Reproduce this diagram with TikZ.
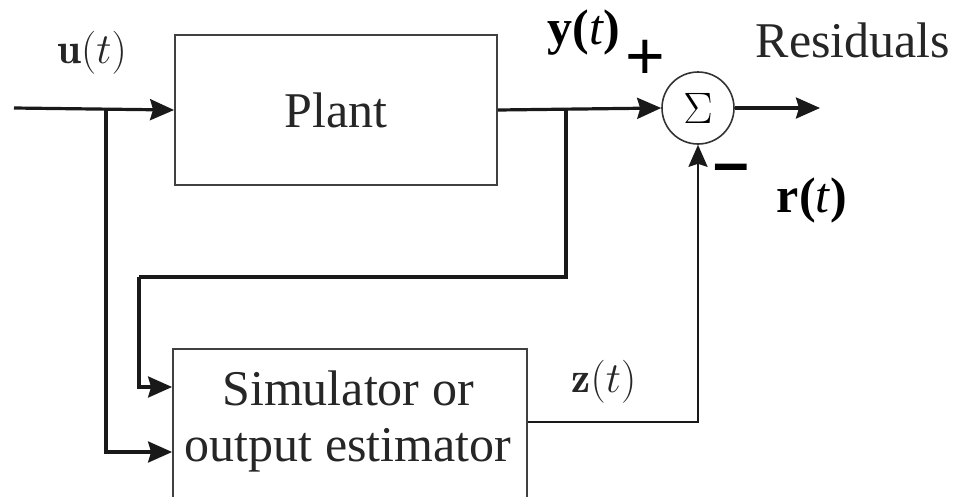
\RequirePackage{fix-cm}
\documentclass[tikz,border=0pt]{standalone}
\usepackage{fontspec}
\newfontfamily\tnr{Liberation Serif}
\newfontfamily\sansb{Liberation Sans}
\usetikzlibrary{arrows.meta}
\begin{document}
\begin{tikzpicture}[x=1pt,y=-1pt,
  wire/.style={line width=3.2pt,draw=black!90},
  arr/.style={wire,-{Stealth[length=24pt,width=21pt,inset=3pt]}},
  thinarr/.style={line width=2.4pt,draw=black!90,-{Stealth[length=22pt,width=19pt,inset=3pt]}},
  blockbox/.style={draw=black!75,line width=1.8pt,rectangle,inner sep=0pt},
  bigtext/.style={font=\tnr\fontsize{50}{56}\selectfont,text=black!85},
  mathlbl/.style={font=\fontsize{43}{48}\selectfont,inner sep=0pt,text=black!85},
  boldlbl/.style={font=\tnr\bfseries\fontsize{50}{56}\selectfont,inner sep=0pt}]
\useasboundingbox (0,0) rectangle (959,496);

\node[blockbox,bigtext,minimum width=322pt,minimum height=150pt] (plant) at (336,110) {Plant};
\node[blockbox,minimum width=354pt,minimum height=151pt] (sim) at (350,424.5) {};
\node[bigtext,align=center,inner sep=0pt] (simtxt) at (348,421) {Simulator or\\output estimator};
\node[draw=black!80,line width=1.6pt,circle,minimum size=72pt,inner sep=0pt,font=\fontsize{44}{48}\selectfont] (sum) at (698,108) {$\Sigma$};

\coordinate (in) at (14,108);
\coordinate (b1) at (106,108);
\coordinate (fb) at (566,108);
\coordinate (fb2) at (566,277);
\coordinate (fb3) at (139,277);
\coordinate (out) at (820,108);

\draw[arr] (in) -- (plant.west);
\draw[arr] (plant.east) -- (sum.west);
\draw[arr] (sum.east) -- (out);
\draw[wire] (fb) -- (fb2) -- (fb3);
\draw[arr] (fb3) |- ([yshift=37.5pt]sim.west);
\draw[arr] (b1) |- ([yshift=-27.5pt]sim.west);
\draw[thinarr] ([yshift=2.5pt]sim.east) -| (sum.south);

\node[mathlbl] (ulbl) at (92,53) {$\mathbf{u}(t)$};
\node[mathlbl] (zlbl) at (604,382) {$\mathbf{z}(t)$};
\node[boldlbl] (ylbl) at (584,33) {y(\mdseries\itshape t\/\bfseries\upshape)};
\node[boldlbl] (rlbl) at (812,200) {r(\mdseries\itshape t\/\bfseries\upshape)};
\node[font=\sansb\fontsize{68}{70}\selectfont,inner sep=0pt] (plus) at (645,60) {+};
\node[font=\sansb\bfseries\fontsize{64}{66}\selectfont,inner sep=0pt] (minus) at (731,174) {–};
\node[bigtext,inner sep=0pt] (res) at (853,40) {Residuals};
\end{tikzpicture}
\end{document}
